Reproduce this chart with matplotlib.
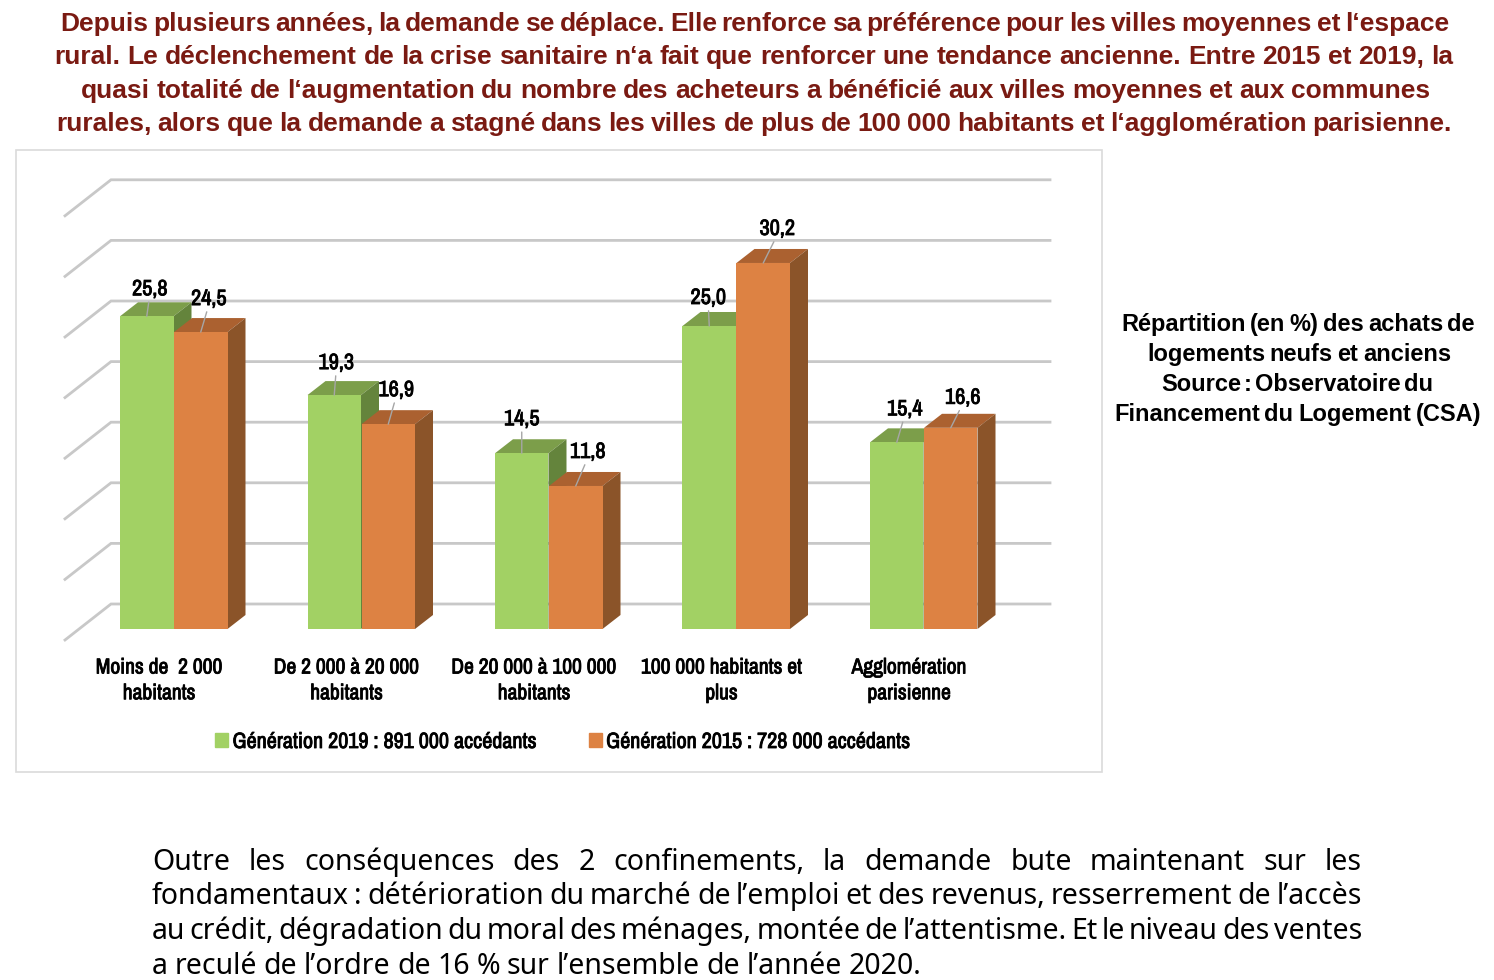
import matplotlib
matplotlib.use('Agg')
import matplotlib.pyplot as plt
import matplotlib.patheffects as pe
from matplotlib.patches import Patch, Polygon, Rectangle
from matplotlib import font_manager

# data
categories = ['Moins de  2 000\nhabitants', 'De 2 000 à 20 000\nhabitants', 'De 20 000 à 100 000\nhabitants',
              '100 000 habitants et\nplus', 'Agglomération\nparisienne']
gen_2019 = [25.8, 19.3, 14.5, 25.0, 15.4]
gen_2015 = [24.5, 16.9, 11.8, 30.2, 16.6]
grid_values = [0, 5, 10, 15, 20, 25, 30, 35]
legend_labels = ['Génération 2019 : 891 000 accédants', 'Génération 2015 : 728 000 accédants']

title_lines = ['Depuis plusieurs années, la demande se déplace. Elle renforce sa préférence pour les villes moyennes et l‘espace',
               'rural. Le déclenchement de la crise sanitaire n‘a fait que renforcer une tendance ancienne. Entre 2015 et 2019, la',
               'quasi totalité de l‘augmentation du nombre des acheteurs a bénéficié aux villes moyennes et aux communes',
               'rurales, alors que la demande a stagné dans les villes de plus de 100 000 habitants et l‘agglomération parisienne.']
side_lines = ['Répartition (en %) des achats de', 'logements neufs et anciens', 'Source : Observatoire du',
              'Financement du Logement (CSA)']
body_lines = ['Outre les conséquences des 2 confinements, la demande bute maintenant sur les',
              'fondamentaux : détérioration du marché de l’emploi et des revenus, resserrement de l’accès',
              'au crédit, dégradation du moral des ménages, montée de l’attentisme. Et le niveau des ventes',
              'a reculé de l’ordre de 16 % sur l’ensemble de l’année 2020.']

W, H = 1494, 980
names = {f.name for f in font_manager.fontManager.ttflist}
narrow = 'Liberation Sans'
narrow_size = 13
for cand in ['Liberation Sans Narrow', 'Archivo Narrow', 'Roboto Condensed', 'PT Sans Narrow']:
    if cand in names:
        narrow = cand
        narrow_size = 15.5
        break
# the narrow face only comes in regular weight here, so thicken it
heavy = [pe.withStroke(linewidth=0.6, foreground='black')]

fig = plt.figure(figsize=(W / 100, H / 100), dpi=100, facecolor='white')
renderer = fig.canvas.get_renderer()


def fit_line(text, x0, x1, baseline, **kw):
    # place the words one by one so the line runs from x0 to x1 (pixels)
    words = text.split(' ')
    items = [fig.text(0, 1 - baseline / H, w, va='baseline', ha='left', **kw) for w in words]
    widths = [t.get_window_extent(renderer).width for t in items]
    gap = (x1 - x0 - sum(widths)) / max(len(words) - 1, 1)
    x = x0
    for t, w in zip(items, widths):
        t.set_x(x / W)
        x += w + gap


# chart frame
fig.add_artist(Rectangle((16 / W, 1 - 772 / H), 1086 / W, 622 / H, transform=fig.transFigure,
                         fc='white', ec='#DADADA', lw=1.2, zorder=-1))

# axes: y=0 sits on the front foot of the bars
ax = fig.add_axes([16 / W, 1 - 629 / H, 1086 / W, 479 / H])
ax.set_xlim((16 - 159) / 187.5, (1102 - 159) / 187.5)
ax.set_ylim(0, 479 / 12.12)
ax.patch.set_visible(False)
for s in ax.spines.values():
    s.set_visible(False)
ax.set_yticks([])
ax.set_xticks(range(len(categories)))
ax.set_xticklabels(categories, family=narrow, fontsize=narrow_size, linespacing=1.36, path_effects=heavy)
ax.tick_params(axis='x', length=0, pad=20.5)

px_x = 1 / 187.5
px_y = 1 / 12.12
grid_lift = 25 * px_y
x_wall0 = (111 - 159) * px_x
x_wall1 = (1050 - 159) * px_x
x_side = (65 - 159) * px_x
for v in grid_values:
    y = v + grid_lift
    ax.plot([x_side, x_wall0, x_wall1], [y - 36 * px_y, y, y], color='#C8C8C8', lw=2, zorder=1,
            clip_on=False, solid_joinstyle='miter')

bar_w = 53.5 * px_x
depth_x = 18 * px_x
depth_y = 14 * px_y


def draw_bars(lefts, values, front, top, side, z):
    ax.bar(lefts, values, width=bar_w, align='edge', color=front, zorder=z + 1, lw=0)
    for x, v in zip(lefts, values):
        ax.add_patch(Polygon([(x, v), (x + depth_x, v + depth_y), (x + bar_w + depth_x, v + depth_y), (x + bar_w, v)],
                             fc=top, ec='none', zorder=z))
        ax.add_patch(Polygon([(x + bar_w, 0), (x + bar_w + depth_x, depth_y), (x + bar_w + depth_x, v + depth_y),
                              (x + bar_w, v)], fc=side, ec='none', zorder=z))


left_g = [i - 39 * px_x for i in range(5)]
left_o = [i + 15 * px_x for i in range(5)]
draw_bars(left_g, gen_2019, '#A2D164', '#7C9E4A', '#64843C', 2)
draw_bars(left_o, gen_2015, '#DD8243', '#AB6130', '#8B5429', 4)

# label offsets in pixels from the top of each bar
off_g = [(3, 27), (2, 32), (0, 34), (-1, 28), (8, 33)]
off_o = [(8, 33), (8, 34), (12, 34), (14, 34), (12, 30)]
for lefts, vals, offs in [(left_g, gen_2019, off_g), (left_o, gen_2015, off_o)]:
    for x, v, (dx, dy) in zip(lefts, vals, offs):
        ax.annotate(f'{v:.1f}'.replace('.', ','), xy=(x + bar_w / 2, v), xytext=(dx, dy),
                    textcoords='offset pixels', ha='center', va='center', family=narrow,
                    fontsize=narrow_size + 0.5, zorder=8, path_effects=heavy,
                    arrowprops=dict(arrowstyle='-', color='#A6A6A6', lw=1, shrinkA=0, shrinkB=0,
                                    relpos=(0.5, 0.2)))

handles = [Patch(color='#A2D164'), Patch(color='#DD8243')]
leg = ax.legend(handles, legend_labels, ncol=2, frameon=False, loc='center', handlelength=0.58, handleheight=0.58,
                handletextpad=0.2, columnspacing=2.4, borderpad=0,
                bbox_to_anchor=((562.5 - 16) / 1086, (629 - 742) / 479),
                prop=dict(family=narrow, size=narrow_size + 0.4))
for t in leg.get_texts():
    t.set_path_effects(heavy)

# header
title_x = [(60, 1449), (54, 1453), (81, 1430), (56, 1452)]
title_y = [31, 64, 98, 131]
for line, (x0, x1), y in zip(title_lines, title_x, title_y):
    fit_line(line, x0, x1, y, family='Liberation Sans', fontweight='bold', fontsize=19, color='#7A1A12')

# caption on the right
side_x = [(1121, 1475), (1147, 1451), (1161, 1433), (1114, 1481)]
side_y = [331, 361, 391, 421]
for line, (x0, x1), y in zip(side_lines, side_x, side_y):
    fit_line(line, x0, x1, y, family='Liberation Sans', fontweight='bold', fontsize=17, color='black')

# paragraph under the chart
body_x = [(152, 1362), (152, 1362), (152, 1362), (152, 921)]
body_y = [870, 904, 939, 974]
for line, (x0, x1), y in zip(body_lines, body_x, body_y):
    fit_line(line, x0, x1, y, family='Noto Sans', fontsize=20.5, color='black')

fig.savefig('out.png', dpi=100)
